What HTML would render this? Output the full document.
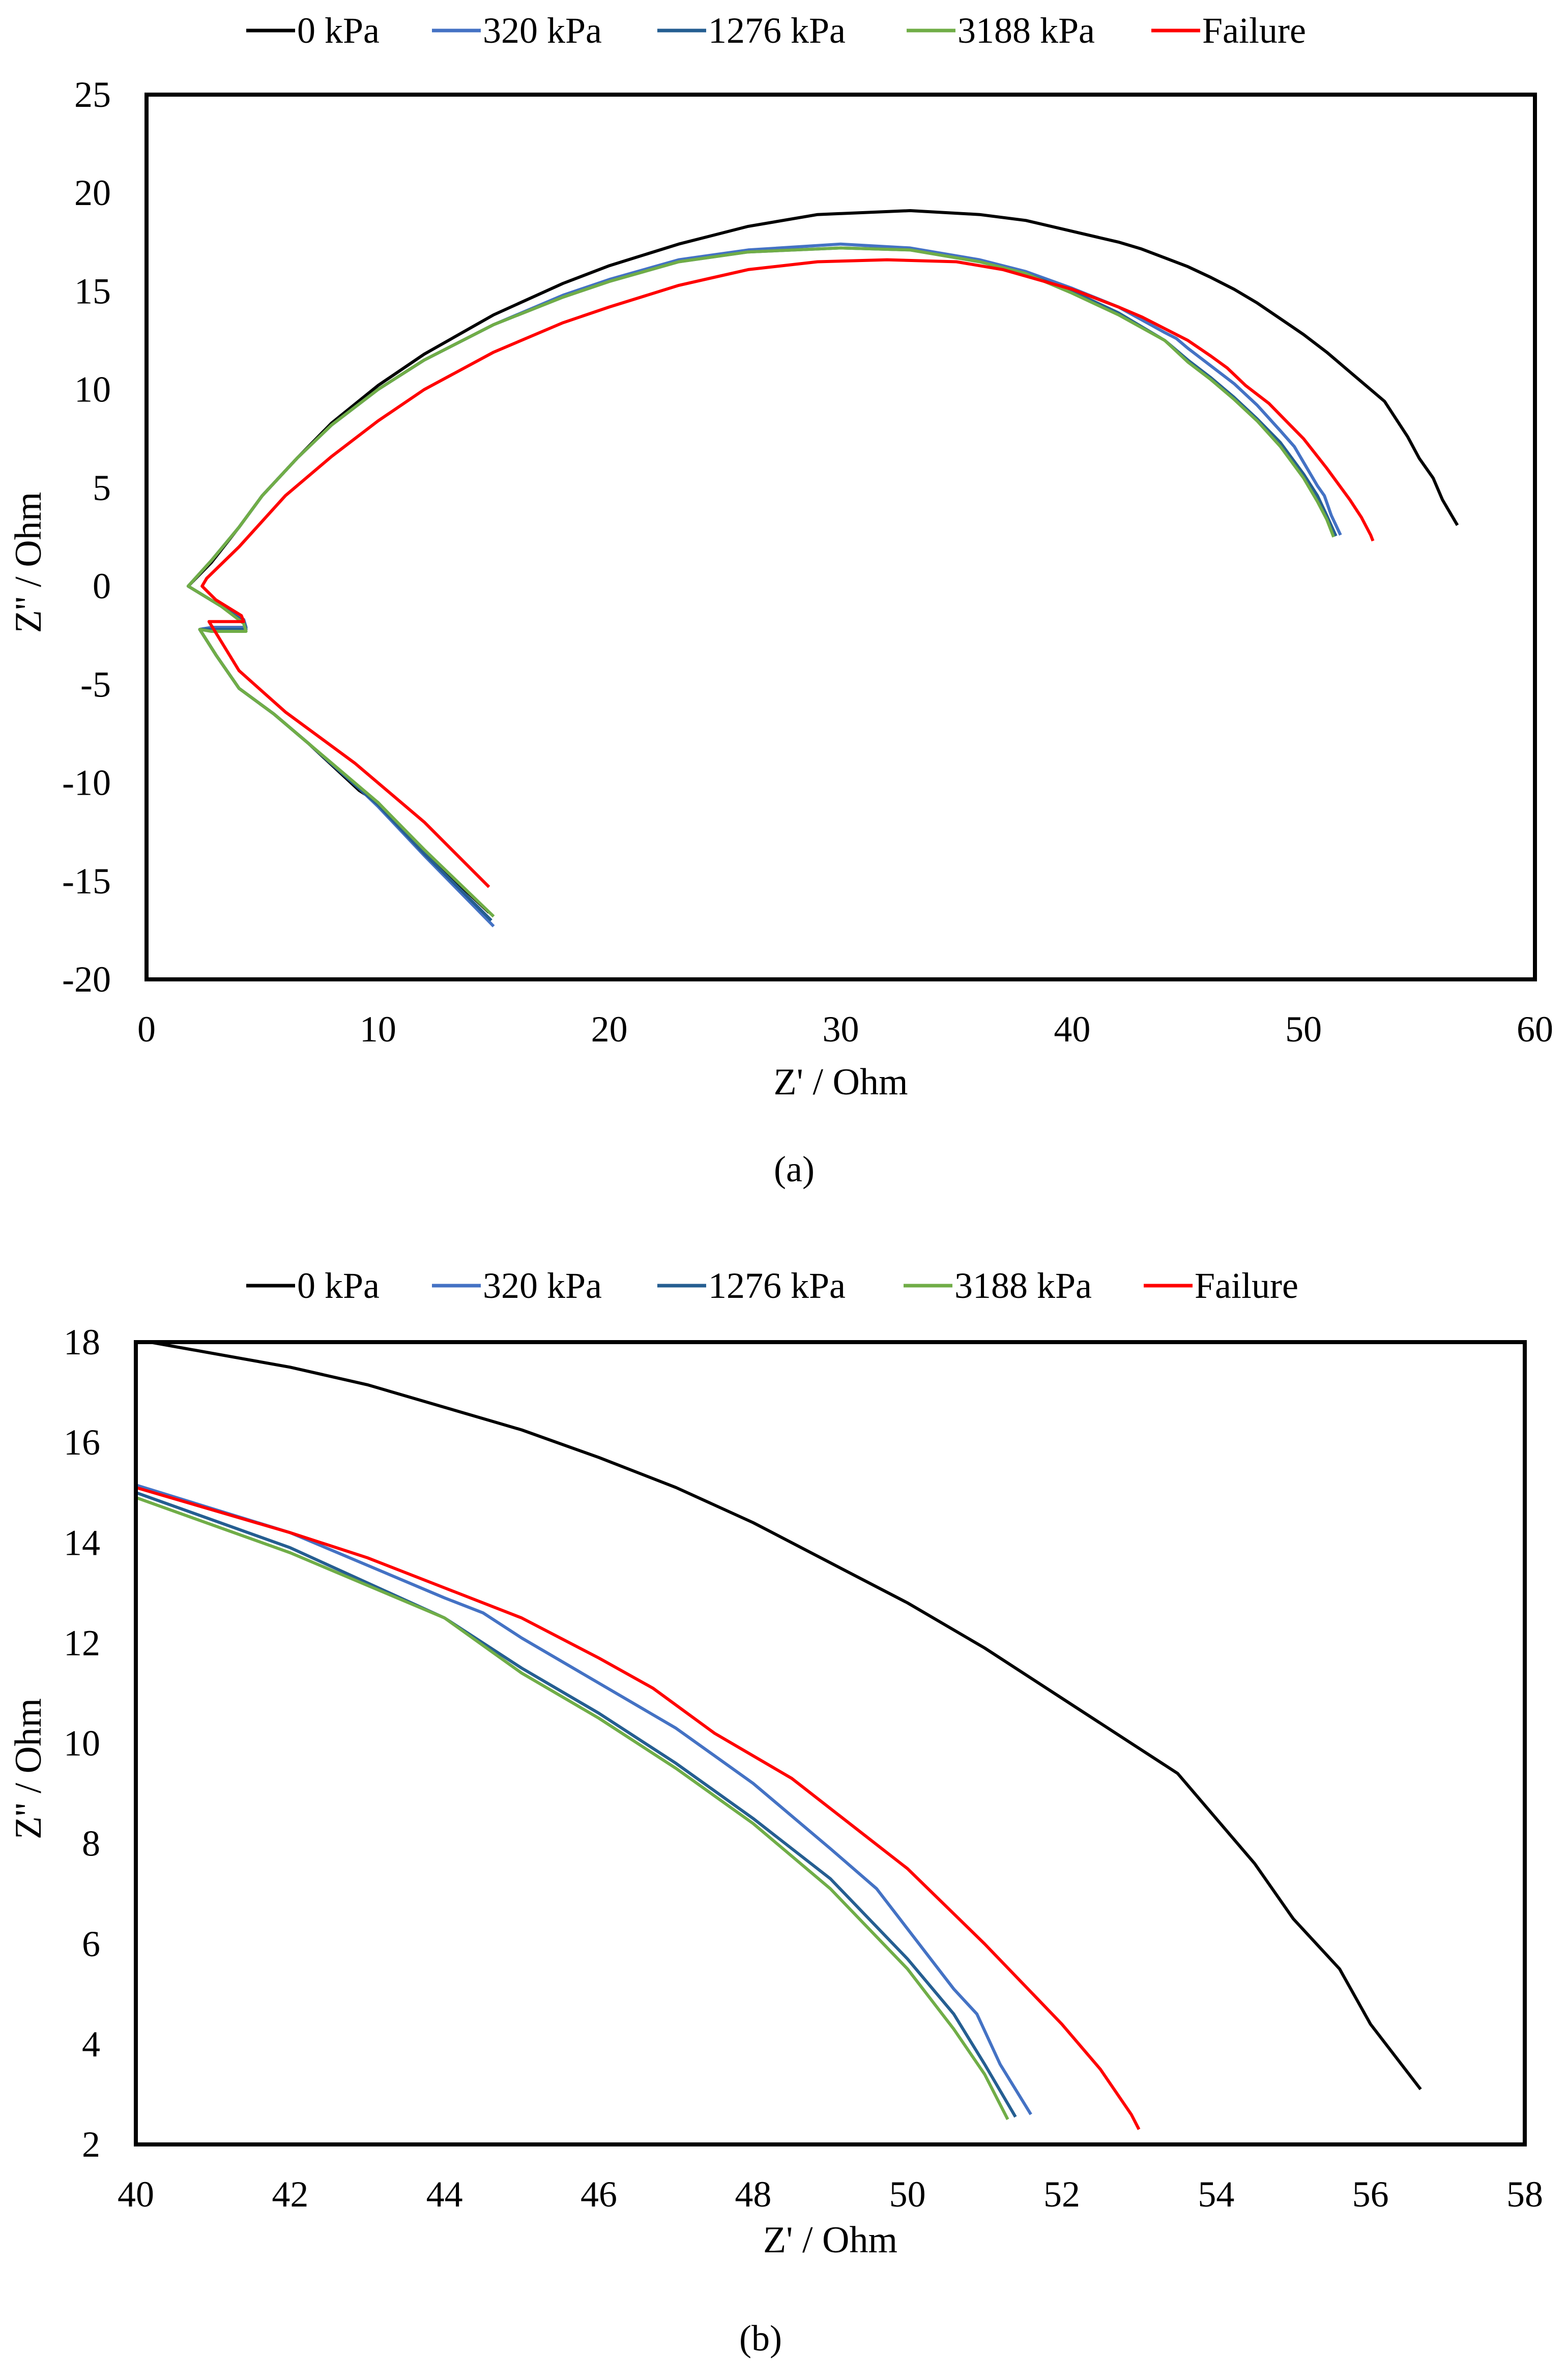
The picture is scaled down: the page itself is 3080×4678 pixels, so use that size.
<!DOCTYPE html>
<html><head><meta charset="utf-8"><style>
html,body{margin:0;padding:0;background:#fff;overflow:hidden;width:3080px;height:4678px;}
svg{display:block;}
text{font-family:"Liberation Serif","Times New Roman",serif;}
</style></head><body>
<svg id="svg" width="3080" height="4678" viewBox="0 0 3080 4678" xmlns="http://www.w3.org/2000/svg" font-family="Liberation Serif, serif">
<rect width="3080" height="4678" fill="#fff"/>
</svg>
<script>
const seriesNames = ["0 kPa","320 kPa","1276 kPa","3188 kPa","Failure"];
const seriesColors = ["#000000","#4472C4","#255E91","#70AD47","#FF0000"];
const s0x = [14.8,12,10,9.2,7,5.5,4,3,2.3,2.8,4.3,4.2,3.2,1.8,2.8,4,5,6.5,8,10,12,15,18,20,23,26,29,33,36,38,40,42,43,44,45,46,47,48,49,50,51,52,53,53.5,54,54.5,55,55.6,56,56.3,56.65];
const s0y = [-16.6,-13.5,-11,-10.4,-8,-6.5,-5.2,-3.5,-2.2,-2.1,-2.1,-1.7,-1,0,1.2,3,4.6,6.5,8.3,10.2,11.8,13.8,15.4,16.3,17.4,18.3,18.9,19.1,18.9,18.6,18.05,17.5,17.15,16.7,16.25,15.7,15.1,14.4,13.6,12.8,11.9,10.9,9.9,9.4,8.5,7.6,6.5,5.5,4.4,3.8,3.1];
const s1x = [15,12,10,9.2,7,5.5,4,3,2.3,2.8,4.3,4.2,3.2,1.8,2.8,4,5,6.5,8,10,12,15,18,20,23,26,30,33,36,38,40,42,44,44.5,45,46,47,48,49,49.6,50,50.6,50.9,51.2,51.6];
const s1y = [-17.3,-13.7,-11.2,-10.3,-8,-6.5,-5.2,-3.5,-2.2,-2.1,-2.1,-1.7,-1,0,1.3,3,4.6,6.5,8.2,10,11.5,13.3,14.8,15.6,16.6,17.1,17.4,17.2,16.6,16,15.15,14.2,12.9,12.6,12.1,11.2,10.3,9.2,7.9,7.1,6.3,5.1,4.6,3.6,2.6];
const s2x = [14.9,12,10,9.2,7,5.5,4,3,2.3,2.8,4.3,4.2,3.2,1.8,2.8,4,5,6.5,8,10,12,15,18,20,23,26,30,33,36,38,40,42,44,45,46,47,48,49,50,50.6,51,51.4];
const s2y = [-17,-13.6,-11.1,-10.3,-8,-6.5,-5.2,-3.5,-2.2,-2.2,-2.2,-1.8,-1,0,1.3,3,4.6,6.5,8.2,10,11.5,13.3,14.7,15.5,16.5,17,17.2,17.1,16.5,15.9,15.0,13.9,12.5,11.5,10.6,9.6,8.5,7.3,5.7,4.6,3.6,2.55];
const s3x = [15,12,10,9.2,7,5.5,4,3,2.3,2.8,4.3,4.2,3.2,1.8,2.8,4,5,6.5,8,10,12,15,18,20,23,26,30,33,36,38,40,42,44,45,46,47,48,49,50,50.6,51,51.3];
const s3y = [-16.8,-13.4,-11,-10.2,-8,-6.5,-5.2,-3.5,-2.2,-2.3,-2.3,-1.9,-1,0,1.3,3,4.6,6.5,8.2,10,11.5,13.3,14.7,15.5,16.5,17,17.2,17.1,16.5,15.9,14.9,13.8,12.5,11.4,10.5,9.5,8.4,7.1,5.5,4.3,3.4,2.5];
const s4x = [14.8,12,9,6,4,2.7,4.2,4.1,3,2.4,2.6,4,6,8,10,12,15,18,20,23,26,29,32,35,37,40,42,43,44,45,46,46.7,47.5,48.5,49.5,50,51,52,52.5,52.9,53];
const s4y = [-15.3,-12,-9,-6.4,-4.3,-1.8,-1.8,-1.5,-0.7,0,0.4,2,4.6,6.6,8.4,10,11.9,13.4,14.2,15.3,16.1,16.5,16.6,16.5,16.1,15.1,14.2,13.7,13.1,12.5,11.7,11.1,10.2,9.3,8.1,7.5,6,4.4,3.5,2.6,2.3];
const xsAll=[s0x,s1x,s2x,s3x,s4x], ysAll=[s0y,s1y,s2y,s3y,s4y];
const ticksAx=[0,10,20,30,40,50,60], ticksAy=[-20,-15,-10,-5,0,5,10,15,20,25];
const ticksBx=[40,42,44,46,48,50,52,54,56,58], ticksBy=[2,4,6,8,10,12,14,16,18];

const svg=document.getElementById('svg');
const NS='http://www.w3.org/2000/svg';
const FF='"Liberation Serif", serif';
function mk(tag,attrs,parent){const e=document.createElementNS(NS,tag);for(const k in attrs)e.setAttribute(k,attrs[k]);if(tag==='text')e.setAttribute('font-family',FF);(parent||svg).appendChild(e);return e;}

function chart(id,F,xd,yd,xt,yt,legY,legX,capY,capX,cap,xtY){
  const g=mk('g',{});
  
  
  const sx=v=>F.l+(v-xd[0])/(xd[1]-xd[0])*(F.r-F.l);
  const sy=v=>F.b-(v-yd[0])/(yd[1]-yd[0])*(F.b-F.t);
  const cp=mk('clipPath',{id:'clip'+id},g);
  mk('rect',{x:F.l,y:F.t,width:F.r-F.l,height:F.b-F.t},cp);
  const lg=mk('g',{'clip-path':'url(#clip'+id+')'},g);
  for(let i=0;i<xsAll.length;i++){
    const d=xsAll[i].map((x,j)=>(j?'L':'M')+sx(x).toFixed(1)+' '+sy(ysAll[i][j]).toFixed(1)).join(' ');
    const p=mk('path',{d:d,fill:'none',stroke:seriesColors[i],'stroke-width':6,'stroke-linejoin':'round'},lg);
    
    
  }
  const fr=mk('rect',{x:F.l,y:F.t,width:F.r-F.l,height:F.b-F.t,fill:'none',stroke:'#000','stroke-width':8},g);
  
  
  xt.forEach(v=>{const t=mk('text',{x:sx(v),y:F.b+122,'text-anchor':'middle','font-size':72},g);t.textContent=v;
    
    });
  yt.forEach(v=>{const t=mk('text',{x:F.l-70,y:sy(v)+24,'text-anchor':'end','font-size':72},g);t.textContent=v;
    
    });
  const xtT=mk('text',{x:(F.l+F.r)/2,y:F.b+xtY,'text-anchor':'middle','font-size':74},g);xtT.textContent="Z' / Ohm";
  
  
  const cy=(F.t+F.b)/2+50;
  const ytT=mk('text',{x:0,y:0,'text-anchor':'middle','font-size':74,transform:'translate(80,'+cy+') rotate(-90)'},g);ytT.textContent="Z'' / Ohm";
  
  
  for(let i=0;i<seriesNames.length;i++){
    const eg=mk('g',{},g);
    
    
    mk('line',{x1:legX[i],x2:legX[i]+96,y1:legY,y2:legY,stroke:seriesColors[i],'stroke-width':7},eg);
    const t=mk('text',{x:legX[i]+100,y:legY+24,'font-size':72},eg);t.textContent=seriesNames[i];
  }
  const c=mk('text',{x:capX,y:capY,'text-anchor':'middle','font-size':72},g);c.textContent=cap;
  
  
}
chart('a',{l:288,r:3017,t:186,b:1925},[0,60],[-20,25],ticksAx,ticksAy,60,[484,849,1292,1782,2263],2322,1561,'(a)',226);
chart('b',{l:267,r:2997,t:2638,b:4215},[40,58],[2,18],ticksBx,ticksBy,2527,[484,849,1292,1776,2248],4620,1495,'(b)',212);
</script>
</body></html>
